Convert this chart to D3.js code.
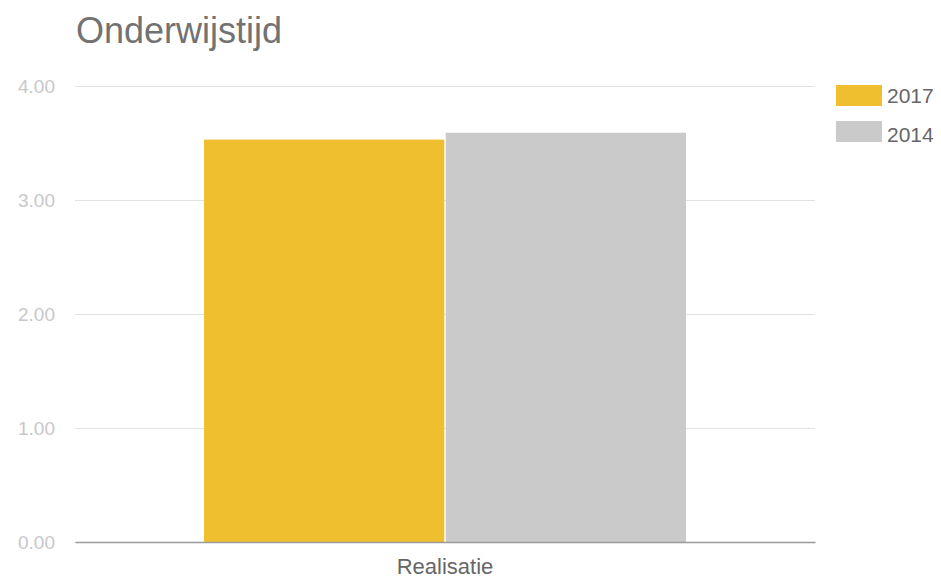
<!DOCTYPE html>
<html><head><meta charset="utf-8">
<script src="https://cdn.jsdelivr.net/npm/d3@7"></script>
<style>body{margin:0;background:#fff}svg{display:block;font-family:"Liberation Sans",Arial,sans-serif}</style>
</head><body>
<svg id="c" width="941" height="580"></svg>
<script>
const title = "Onderwijstijd";
const categories = ["Realisatie"];
const seriesNames = ["2017", "2014"];
const values2017 = [3.53];
const values2014 = [3.59];
const yTicks = [0, 1, 2, 3, 4];
const colors = ["#f0bf2f", "#cacaca"];

(function () {
const svg = d3.select("#c");
const mLeft = 75, mRight = 815, mTop = 86, mBottom = 542;
const y = d3.scaleLinear().domain([0, 4]).range([mBottom, mTop]);
const x0 = d3.scaleBand().domain(categories).range([mLeft, mRight]).paddingInner(0).paddingOuter(0.2676);
const x1 = d3.scaleBand().domain(seriesNames).range([0, x0.bandwidth()]).paddingInner(0.006);

svg.append("text").attr("x", 76).attr("y", 43).attr("font-size", 36).attr("fill", "#727272").text(title);

const yAxis = d3.axisLeft(y).tickValues(yTicks).tickFormat(d3.format(".2f")).tickSize(-(mRight - mLeft)).tickPadding(20);
const gy = svg.append("g").attr("transform", `translate(${mLeft},0)`).call(yAxis);
gy.select(".domain").remove();
gy.selectAll(".tick line").attr("stroke", "#e2e2e2").attr("stroke-width", 1.2);
gy.selectAll(".tick text").attr("fill", "#c8c8c8").attr("font-size", 19).attr("font-family", "Liberation Sans, Arial, sans-serif");

const data = categories.map((c, i) => ({cat: c, vals: [values2017[i], values2014[i]]}));
const g = svg.append("g");
data.forEach(d => {
  d.vals.forEach((v, j) => {
    g.append("rect")
      .attr("x", x0(d.cat) + x1(seriesNames[j]))
      .attr("y", y(v))
      .attr("width", x1.bandwidth())
      .attr("height", y(0) - y(v))
      .attr("fill", colors[j]);
  });
});

const xAxis = d3.axisBottom(x0).tickSize(0).tickPadding(16);
const gx = svg.append("g").attr("transform", `translate(0,${mBottom})`).call(xAxis);
gx.select(".domain").attr("stroke", "#9a9a9a").attr("stroke-width", 1.5);
gx.selectAll(".tick text").attr("fill", "#666").attr("font-size", 22).attr("font-family", "Liberation Sans, Arial, sans-serif");

const lg = svg.append("g");
seriesNames.forEach((s, i) => {
  lg.append("rect").attr("x", 836).attr("y", 85 + i * 36).attr("width", 46).attr("height", 21).attr("fill", colors[i]);
  lg.append("text").attr("x", 887).attr("y", 103 + i * 38.5).attr("font-size", 21).attr("fill", "#666").text(s);
});
})();
</script>
</body></html>
